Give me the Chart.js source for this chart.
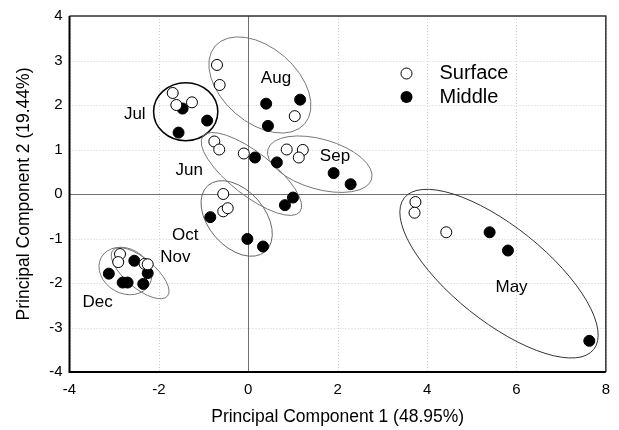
<!DOCTYPE html>
<html>
<head>
<meta charset="utf-8">
<script src="https://cdn.jsdelivr.net/npm/chart.js@4"></script>
<style>
  html, body { margin: 0; padding: 0; background: #fff; }
  #wrap { width: 619px; height: 430px; }
</style>
</head>
<body>
<div id="wrap"><canvas id="c"></canvas></div>
<script>
// scores on the first two principal components
var surfaceX = [-0.70, -0.64, 1.04, -1.69, -1.61, -1.26, -0.76, -0.65, -0.10, 0.86, 1.22, 1.13, -0.56, -0.56, -0.46, -2.87, -2.91, -2.32, -2.25, 3.74, 3.72, 4.43];
var surfaceY = [2.90, 2.45, 1.75, 2.27, 2.00, 2.06, 1.18, 1.00, 0.91, 1.00, 0.99, 0.82, 0.00, -0.39, -0.32, -1.35, -1.53, -1.57, -1.58, -0.18, -0.42, -0.86];
var middleX = [0.40, 1.16, 0.44, -1.47, -0.92, -1.56, 0.15, 0.82, 1.00, 0.64, 1.91, 2.29, -0.85, -0.02, 0.33, -3.12, -2.55, -2.25, -2.81, -2.70, -2.35, 5.40, 5.81, 7.63];
var middleY = [2.03, 2.12, 1.53, 1.92, 1.65, 1.38, 0.82, -0.25, -0.08, 0.71, 0.47, 0.22, -0.52, -1.01, -1.18, -1.79, -1.50, -1.78, -1.99, -1.99, -2.02, -0.86, -1.27, -3.30];

var xTicks = [-4, -2, 0, 2, 4, 6, 8];
var yTicks = [-4, -3, -2, -1, 0, 1, 2, 3, 4];

// group outlines (centre, half axes in data units, tilt in degrees) and label spots
var groups = [
  { name: 'Aug', cx: 0.26, cy: 2.45, a: 1.33, b: 0.84, rot: 41, color: '#777', w: 1, lx: 0.62, ly: 2.60 },
  { name: 'Jul', cx: -1.40, cy: 1.85, a: 0.72, b: 0.65, rot: 0, color: '#000', w: 1.5, lx: -2.54, ly: 1.79 },
  { name: 'Jun', cx: 0.07, cy: 0.45, a: 1.38, b: 0.48, rot: 38, color: '#777', w: 1, lx: -1.32, ly: 0.54 },
  { name: 'Sep', cx: 1.60, cy: 0.67, a: 1.21, b: 0.56, rot: 16, color: '#777', w: 1, lx: 1.94, ly: 0.85 },
  { name: 'Oct', cx: -0.26, cy: -0.55, a: 0.98, b: 0.63, rot: 49, color: '#666', w: 1, lx: -1.41, ly: -0.93 },
  { name: 'Nov', cx: -2.42, cy: -1.78, a: 0.80, b: 0.33, rot: 40, color: '#777', w: 1, lx: -1.63, ly: -1.42 },
  { name: 'Dec', cx: -2.75, cy: -1.73, a: 0.62, b: 0.50, rot: 30, color: '#777', w: 1, lx: -3.37, ly: -2.43 },
  { name: 'May', cx: 5.61, cy: -1.79, a: 2.72, b: 1.06, rot: 38.7, color: '#333', w: 1, lx: 5.89, ly: -2.09 }
];

var FONT = '"Liberation Sans", Arial, Helvetica, sans-serif';

function toPoints(xs, ys) {
  return xs.map(function (x, i) { return { x: x, y: ys[i] }; });
}

var decorPlugin = {
  id: 'decor',
  beforeDatasetsDraw: function (chart) {
    var ctx = chart.ctx, a = chart.chartArea;
    var xs = chart.scales.x, ys = chart.scales.y;
    ctx.save();
    // dotted grid
    ctx.strokeStyle = '#d0d0d0';
    ctx.lineWidth = 1;
    ctx.setLineDash([1, 2]);
    xTicks.forEach(function (v) {
      var px = Math.round(xs.getPixelForValue(v)) + 0.5;
      ctx.beginPath(); ctx.moveTo(px, a.top); ctx.lineTo(px, a.bottom); ctx.stroke();
    });
    yTicks.forEach(function (v) {
      var py = Math.round(ys.getPixelForValue(v)) + 0.5;
      ctx.beginPath(); ctx.moveTo(a.left, py); ctx.lineTo(a.right, py); ctx.stroke();
    });
    ctx.setLineDash([]);
    // zero lines
    ctx.strokeStyle = '#707070';
    var x0 = Math.round(xs.getPixelForValue(0)) + 0.5;
    var y0 = Math.round(ys.getPixelForValue(0)) + 0.5;
    ctx.beginPath(); ctx.moveTo(x0, a.top); ctx.lineTo(x0, a.bottom); ctx.stroke();
    ctx.beginPath(); ctx.moveTo(a.left, y0); ctx.lineTo(a.right, y0); ctx.stroke();
    // group ellipses
    var sx = Math.abs(xs.getPixelForValue(1) - xs.getPixelForValue(0));
    var sy = Math.abs(ys.getPixelForValue(1) - ys.getPixelForValue(0));
    groups.forEach(function (g) {
      ctx.beginPath();
      ctx.strokeStyle = g.color;
      ctx.lineWidth = g.w;
      ctx.ellipse(xs.getPixelForValue(g.cx), ys.getPixelForValue(g.cy), g.a * (sx + sy) / 2, g.b * (sx + sy) / 2, g.rot * Math.PI / 180, 0, Math.PI * 2);
      ctx.stroke();
    });
    ctx.restore();
  },
  afterDatasetsDraw: function (chart) {
    var ctx = chart.ctx, a = chart.chartArea;
    var xs = chart.scales.x, ys = chart.scales.y;
    ctx.save();
    // frame
    ctx.strokeStyle = '#333';
    ctx.lineWidth = 1.5;
    ctx.beginPath(); ctx.moveTo(a.left, a.top); ctx.lineTo(a.right, a.top); ctx.lineTo(a.right, a.bottom); ctx.stroke();
    ctx.strokeStyle = '#000';
    ctx.lineWidth = 2;
    ctx.beginPath(); ctx.moveTo(a.left, a.top); ctx.lineTo(a.left, a.bottom); ctx.lineTo(a.right, a.bottom); ctx.stroke();
    // month labels
    ctx.fillStyle = '#000';
    ctx.font = '17px ' + FONT;
    ctx.textAlign = 'center';
    ctx.textBaseline = 'middle';
    groups.forEach(function (g) {
      ctx.fillText(g.name, xs.getPixelForValue(g.lx), ys.getPixelForValue(g.ly));
    });
    // legend
    var lx = a.left + 337, ly = a.top + 57.5;
    ctx.lineWidth = 1;
    ctx.strokeStyle = '#000';
    ctx.fillStyle = '#fff';
    ctx.beginPath(); ctx.arc(lx, ly, 5.5, 0, Math.PI * 2); ctx.fill(); ctx.stroke();
    ctx.fillStyle = '#000';
    ctx.beginPath(); ctx.arc(lx, ly + 23.5, 6, 0, Math.PI * 2); ctx.fill();
    ctx.font = '20px ' + FONT;
    ctx.textAlign = 'left';
    ctx.fillText('Surface', lx + 33, ly);
    ctx.fillText('Middle', lx + 33, ly + 23.5);
    ctx.restore();
  }
};

new Chart(document.getElementById('c'), {
  type: 'scatter',
  data: {
    datasets: [{
      label: 'Surface',
      data: toPoints(surfaceX, surfaceY),
      backgroundColor: '#fff',
      borderColor: '#000',
      borderWidth: 1,
      pointRadius: 5.5,
      pointHoverRadius: 5.5
    }, {
      label: 'Middle',
      data: toPoints(middleX, middleY),
      backgroundColor: '#000',
      borderColor: '#000',
      borderWidth: 1,
      pointRadius: 5.5,
      pointHoverRadius: 5.5
    }]
  },
  options: {
    responsive: true,
    maintainAspectRatio: false,
    animation: false,
    layout: { padding: { top: 14, right: 12, left: 0, bottom: 0 } },
    plugins: {
      legend: { display: false },
      tooltip: { enabled: false }
    },
    scales: {
      x: {
        type: 'linear',
        min: -4, max: 8,
        afterBuildTicks: function (s) { s.ticks = xTicks.map(function (v) { return { value: v }; }); },
        afterFit: function (s) { s.height = 58; },
        grid: { display: false, drawTicks: false },
        border: { display: false },
        ticks: { color: '#000', padding: 9, maxRotation: 0, font: { family: FONT, size: 15 } },
        title: { display: true, text: 'Principal Component 1 (48.95%)', color: '#000', padding: { top: 0, bottom: 2 }, font: { family: FONT, size: 17.5 } }
      },
      y: {
        type: 'linear',
        min: -4, max: 4,
        afterBuildTicks: function (s) { s.ticks = yTicks.map(function (v) { return { value: v }; }); },
        afterFit: function (s) { s.width = 69.5; },
        grid: { display: false, drawTicks: false },
        border: { display: false },
        ticks: { color: '#000', padding: 7, font: { family: FONT, size: 15 } },
        title: { display: true, text: 'Principal Component 2 (19.44%)', color: '#000', padding: { top: 14, bottom: 0 }, font: { family: FONT, size: 17.5 } }
      }
    }
  },
  plugins: [decorPlugin]
});
</script>
</body>
</html>
